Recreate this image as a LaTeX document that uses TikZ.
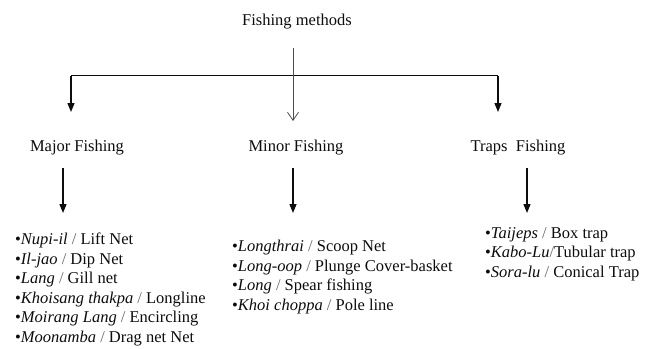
\documentclass[tikz,border=0pt]{standalone}
\usepackage{fontspec}
\setmainfont{Liberation Serif}
\usetikzlibrary{arrows.meta}
\definecolor{ink}{HTML}{0D0D0D}
\definecolor{slashgray}{HTML}{666666}
\newcommand{\myslash}{{\color{slashgray}/}}
\newcommand{\mybul}{{\raisebox{0pt}{•}}}
\begin{document}
\begin{tikzpicture}[x=1pt,y=-1pt,
  lbl/.style={inner sep=0pt, text=ink, font=\fontsize{16.5}{19.5}\selectfont},
  lst/.style={inner sep=0pt, text=ink, align=left, anchor=north west, font=\fontsize{16.5}{19.5}\selectfont},
  solidarrow/.style={draw=ink, line width=1.3pt, -{Triangle[width=7pt,length=9pt]}},
  conn/.style={draw=ink, line width=1.3pt},
  openarrow/.style={draw=black!70, line width=0.8pt, -{Straight Barb[width=11pt,length=8pt]}}]
\fill[white] (0,0) rectangle (645,348);
\useasboundingbox (0,0) rectangle (645,348);

\node[lbl] (title) at (297,22) {Fishing methods};
\node[lbl] (major) at (77,148) {Major Fishing};
\node[lbl] (minor) at (296,148) {Minor Fishing};
\node[lbl] (traps) at (518,148) {Traps\ \ Fishing};

\coordinate (c0) at (293,48);
\coordinate (c1) at (293,121);
\coordinate (jl) at (71,75.5);
\coordinate (jr) at (498,75.5);
\coordinate (tl) at (71,112);
\coordinate (tr) at (498,112);

\coordinate (m0) at (63,168);
\coordinate (m1) at (63,213);
\coordinate (n0) at (293,168);
\coordinate (n1) at (293,213);
\coordinate (p0) at (527,168);
\coordinate (p1) at (527,213);

\draw[conn] (jl) -- (jr);
\draw[solidarrow] (jl) -- (tl);
\draw[solidarrow] (jr) -- (tr);
\draw[openarrow] (c0) -- (c1);
\draw[solidarrow] (m0) -- (m1);
\draw[solidarrow] (n0) -- (n1);
\draw[solidarrow] (p0) -- (p1);

\node[lst] (majorlist) at (15,233) {%
\mybul\textit{Nupi-il} \myslash{} Lift Net\\
\mybul\textit{Il-jao} \myslash{} Dip Net\\
\mybul\textit{Lang} \myslash{} Gill net\\
\mybul\textit{Khoisang thakpa} \myslash{} Longline\\
\mybul\textit{Moirang Lang} \myslash{} Encircling\\
\mybul\textit{Moonamba} \myslash{} Drag net Net};

\node[lst] (minorlist) at (232,240) {%
\mybul\textit{Longthrai} \myslash{} Scoop Net\\
\mybul\textit{Long-oop} \myslash{} Plunge Cover-basket\\
\mybul\textit{Long} \myslash{} Spear fishing\\
\mybul\textit{Khoi choppa} \myslash{} Pole line};

\node[lst] (trapslist) at (485,227) {%
\mybul\textit{Taijeps} \myslash{} Box trap\\
\mybul\textit{Kabo-Lu}\myslash{}Tubular trap\\
\mybul\textit{Sora-lu} \myslash{} Conical Trap};
\end{tikzpicture}
\end{document}
